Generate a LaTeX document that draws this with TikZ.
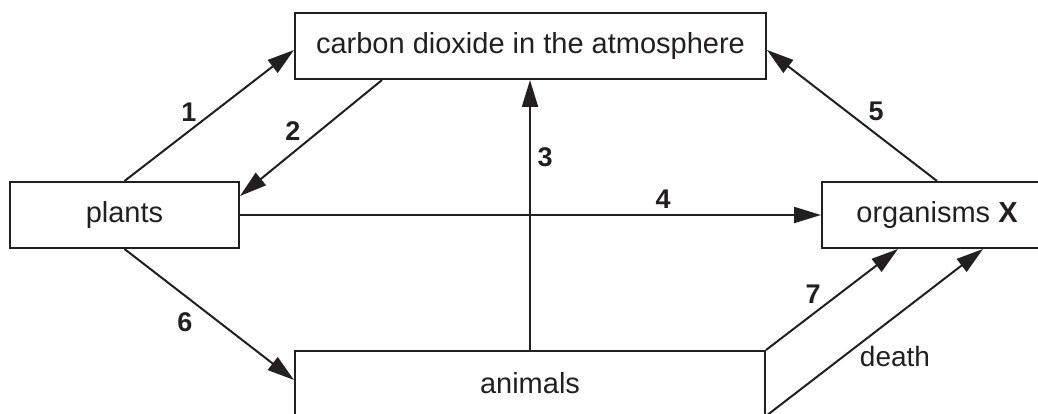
\documentclass[tikz,border=0pt]{standalone}
\usepackage{fontspec}
\setmainfont{Liberation Sans}
\usetikzlibrary{arrows.meta,calc}
\definecolor{ink}{HTML}{231F20}
\begin{document}
\begin{tikzpicture}[x=1pt,y=-1pt,every node/.style={text=ink},
  box/.style={draw=ink,line width=2pt,minimum height=66pt,inner sep=0pt,font=\fontsize{29}{34}\selectfont},
  flow/.style={draw=ink,line width=2pt,-{Triangle[length=27pt,width=16pt]},fill=ink},
  num/.style={font=\fontsize{27}{31}\selectfont\bfseries,inner sep=0pt},
  lbl/.style={font=\fontsize{28}{33}\selectfont,inner sep=0pt}]
\useasboundingbox (0,0) rectangle (1038,414);
\clip (0,0) rectangle (1038,414);
\node[box,minimum width=471pt] (co2) at (530.5,46) {carbon dioxide in the atmosphere};
\node[box,minimum width=229pt] (plants) at (124.5,215) {plants};
\node[box,minimum width=230pt] (orgx) at (937,215) {organisms \textbf{X}};
\node[box,minimum width=470pt,minimum height=64pt] (animals) at (530,383) {animals};
\draw[flow] (plants.north) -- ([yshift=-4pt]co2.west);
\draw[flow] ([xshift=-148.5pt]co2.south) -- ([yshift=19pt]plants.east);
\draw[flow] (animals.north) -- (animals.north |- co2.south);
\draw[flow] (plants.east) -- (orgx.west);
\draw[flow] (orgx.north) -- ([yshift=-4pt]co2.east);
\draw[flow] (plants.south) -- ([yshift=3pt]animals.west);
\draw[flow] (animals.north east) -- ([xshift=-39pt]orgx.south);
\draw[flow] (animals.south east) -- ([xshift=46pt]orgx.south);
\node[num] (n1) at (189,112) {1};
\node[num] (n2) at (293,131) {2};
\node[num] (n3) at (545,157) {3};
\node[num] (n4) at (663,199) {4};
\node[num] (n5) at (876,111) {5};
\node[num] (n6) at (185,322) {6};
\node[num] (n7) at (813,294) {7};
\node[lbl] (death) at (895,356) {death};
\end{tikzpicture}
\end{document}
